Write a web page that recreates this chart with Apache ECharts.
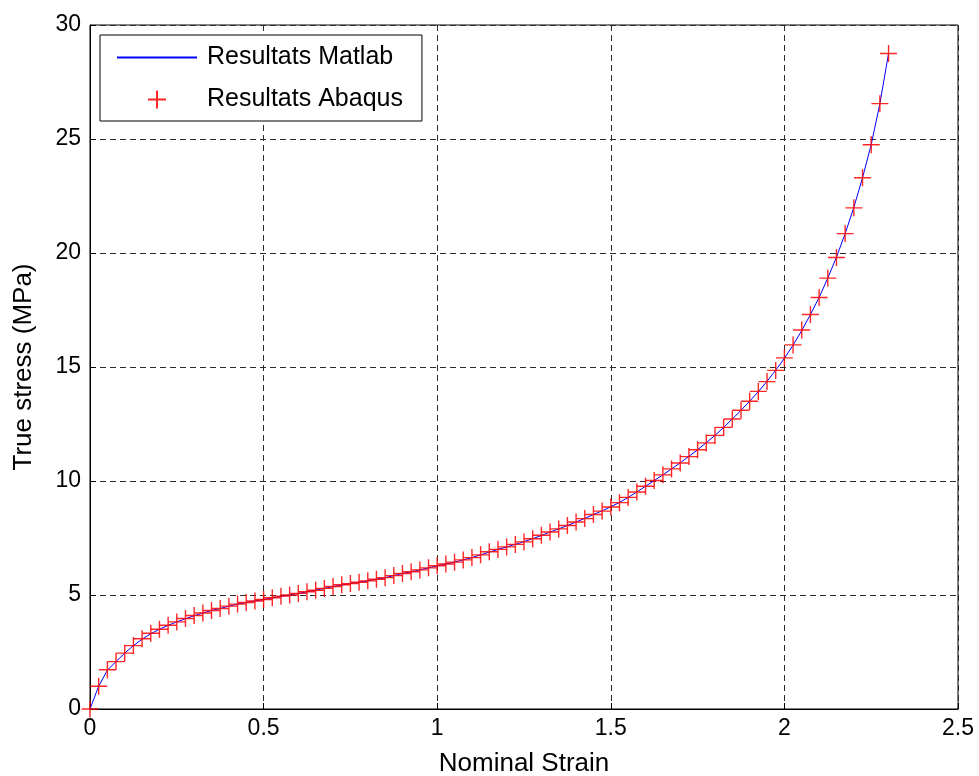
<!DOCTYPE html>
<html>
<head>
<meta charset="utf-8">
<script src="https://cdn.jsdelivr.net/npm/echarts@6/dist/echarts.min.js"></script>
<style>
html,body{margin:0;padding:0;background:#fff;}
#c{width:979px;height:776px;}
</style>
</head>
<body>
<div id="c"></div>
<script>
// Nominal strain sample points (Abaqus increments)
const strain = [
  0, 0.025, 0.05, 0.075, 0.1, 0.125, 0.15, 0.175, 0.2, 0.225,
  0.25, 0.275, 0.3, 0.325, 0.35, 0.375, 0.4, 0.425, 0.45, 0.475,
  0.5, 0.525, 0.55, 0.575, 0.6, 0.625, 0.65, 0.675, 0.7, 0.725,
  0.75, 0.775, 0.8, 0.825, 0.85, 0.875, 0.9, 0.925, 0.95, 0.975,
  1.0, 1.025, 1.05, 1.075, 1.1, 1.125, 1.15, 1.175, 1.2, 1.225,
  1.25, 1.275, 1.3, 1.325, 1.35, 1.375, 1.4, 1.425, 1.45, 1.475,
  1.5, 1.525, 1.55, 1.575, 1.6, 1.625, 1.65, 1.675, 1.7, 1.725,
  1.75, 1.775, 1.8, 1.825, 1.85, 1.875, 1.9, 1.925, 1.95, 1.975,
  2.0, 2.025, 2.05, 2.075, 2.1, 2.125, 2.15, 2.175, 2.2, 2.225,
  2.25, 2.275, 2.3
];
// True stress (MPa)
const stressAbaqus = [
  0, 1.0, 1.72, 2.08, 2.45, 2.78, 3.08, 3.32, 3.5, 3.67,
  3.82, 3.97, 4.1, 4.21, 4.32, 4.41, 4.51, 4.6, 4.67, 4.74,
  4.8, 4.88, 4.95, 5.0, 5.07, 5.14, 5.21, 5.29, 5.37, 5.45,
  5.5, 5.56, 5.62, 5.69, 5.76, 5.85, 5.94, 6.02, 6.1, 6.19,
  6.28, 6.36, 6.44, 6.54, 6.64, 6.76, 6.9, 7.0, 7.11, 7.22,
  7.33, 7.47, 7.62, 7.76, 7.9, 8.05, 8.2, 8.35, 8.53, 8.68,
  8.86, 9.05, 9.28, 9.52, 9.77, 10.02, 10.27, 10.53, 10.79, 11.07,
  11.37, 11.67, 12.0, 12.35, 12.72, 13.1, 13.5, 13.93, 14.36, 14.85,
  15.4, 15.97, 16.62, 17.3, 18.05, 18.9, 19.8, 20.85, 21.98, 23.3,
  24.75, 26.55, 28.75
];
// True stress (MPa) of the Matlab curve at the same strains
const stressMatlab = [
  0, 1.0, 1.7, 2.08, 2.45, 2.78, 3.06, 3.3, 3.5, 3.67,
  3.82, 3.96, 4.09, 4.21, 4.32, 4.41, 4.51, 4.6, 4.67, 4.74,
  4.8, 4.87, 4.94, 5.0, 5.07, 5.14, 5.21, 5.29, 5.37, 5.44,
  5.5, 5.56, 5.62, 5.69, 5.76, 5.85, 5.94, 6.02, 6.1, 6.19,
  6.28, 6.36, 6.44, 6.54, 6.64, 6.76, 6.88, 7.0, 7.11, 7.22,
  7.34, 7.47, 7.61, 7.76, 7.9, 8.05, 8.2, 8.36, 8.53, 8.69,
  8.87, 9.06, 9.28, 9.52, 9.77, 10.02, 10.27, 10.53, 10.8, 11.08,
  11.37, 11.68, 12.0, 12.35, 12.72, 13.1, 13.5, 13.92, 14.37, 14.86,
  15.38, 15.96, 16.6, 17.3, 18.05, 18.9, 19.82, 20.85, 22.0, 23.3,
  24.75, 26.55, 28.75
];
const xTicks = [0, 0.5, 1, 1.5, 2, 2.5];
const yTicks = [0, 5, 10, 15, 20, 25, 30];

const FONT = 'Liberation Sans, Arial, sans-serif';
const plusPath = 'path://M10,0 L10,20 M0,10 L20,10';

const chart = echarts.init(document.getElementById('c'), null, {renderer: 'canvas'});
chart.setOption({
  animation: false,
  backgroundColor: '#fff',
  textStyle: {fontFamily: FONT},
  grid: {left: 90, right: 21, top: 25, bottom: 67, show: true, borderColor: '#000', borderWidth: 1,
    containLabel: false, outerBoundsMode: 'none'},
  legend: {
    orient: 'vertical',
    left: 100, top: 35,
    padding: [10, 19, 9, 16],
    itemWidth: 80, itemHeight: 18, itemGap: 17,
    backgroundColor: '#fff',
    borderColor: '#000', borderWidth: 1,
    textStyle: {fontFamily: FONT, fontSize: 25, color: '#000', padding: [0, 0, 0, 5]},
    data: [
      {name: 'Resultats Matlab', itemStyle: {opacity: 0}},
      {name: 'Resultats Abaqus'}
    ]
  },
  xAxis: {
    type: 'value', min: 0, max: 2.5, interval: 0.5,
    name: 'Nominal Strain', nameLocation: 'middle', nameGap: 42,
    nameTextStyle: {fontFamily: FONT, fontSize: 26, color: '#000'},
    axisLine: {show: true, lineStyle: {color: '#000', width: 1}},
    axisTick: {show: true, inside: true, length: 6, lineStyle: {color: '#000'}},
    axisLabel: {fontFamily: FONT, fontSize: 23, color: '#000', margin: 8,
      formatter: v => xTicks.indexOf(v) >= 0 ? String(v) : ''},
    splitLine: {show: true, lineStyle: {color: '#2b2b2b', width: 1, type: [6, 4]}}
  },
  yAxis: {
    type: 'value', min: 0, max: 30, interval: 5,
    name: 'True stress (MPa)', nameLocation: 'middle', nameGap: 53,
    nameTextStyle: {fontFamily: FONT, fontSize: 26, color: '#000'},
    axisLine: {show: true, lineStyle: {color: '#000', width: 1}},
    axisTick: {show: true, inside: true, length: 6, lineStyle: {color: '#000'}},
    axisLabel: {fontFamily: FONT, fontSize: 23, color: '#000', margin: 9,
      formatter: v => yTicks.indexOf(v) >= 0 ? String(v) : ''},
    splitLine: {show: true, lineStyle: {color: '#2b2b2b', width: 1, type: [6, 4]}}
  },
  series: [
    {
      name: 'Resultats Matlab', type: 'line',
      data: strain.map((s, i) => [s, stressMatlab[i]]),
      symbol: 'none', smooth: false,
      lineStyle: {color: '#0000ff', width: 1},
      itemStyle: {color: '#0000ff'},
      z: 3
    },
    {
      name: 'Resultats Abaqus', type: 'scatter',
      data: strain.map((s, i) => [s, stressAbaqus[i]]),
      symbol: plusPath, symbolSize: 17,
      itemStyle: {color: 'rgba(0,0,0,0)', borderColor: '#ff0000', borderWidth: 1.4, opacity: 0.85},
      z: 4
    }
  ]
});
</script>
</body>
</html>
